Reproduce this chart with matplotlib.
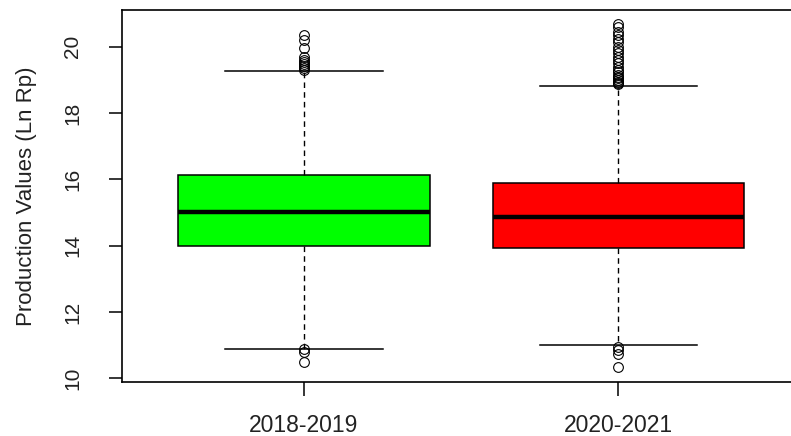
import matplotlib.pyplot as plt

plt.rcParams['font.family'] = ['Liberation Sans', 'DejaVu Sans']

# valores (Ln Rp)
labels = ["2018-2019", "2020-2021"]
colors = ["#00ff00", "#ff0000"]
q1 = [14.00, 13.92]
med = [15.01, 14.86]
q3 = [16.13, 15.90]
whislo = [10.90, 11.00]
whishi = [19.28, 18.81]
fliers_1 = [20.37, 20.20, 19.97, 19.69, 19.60, 19.54, 19.48, 19.42, 19.36, 19.31,
            10.88, 10.80, 10.50]
fliers_2 = [20.70, 20.60, 20.45, 20.35, 20.25, 20.15, 20.00, 19.90, 19.80, 19.70,
            19.60, 19.50, 19.40, 19.30, 19.25, 19.15, 19.10, 19.05, 19.00, 18.95,
            18.90, 18.87, 10.95, 10.85, 10.73, 10.33]
fliers = [fliers_1, fliers_2]

stats = []
for i in range(len(labels)):
    stats.append(dict(label=labels[i], q1=q1[i], med=med[i], q3=q3[i],
                      whislo=whislo[i], whishi=whishi[i], fliers=fliers[i]))

fig = plt.figure(figsize=(7.91, 4.36), dpi=100)
ax = fig.add_axes([0.1539, 0.1239, 1 - 0.1539, 0.853])

bp = ax.bxp(stats, positions=[1, 2], widths=0.8, patch_artist=True,
            boxprops=dict(edgecolor="black", linewidth=1.1),
            medianprops=dict(color="black", linewidth=3.2),
            whiskerprops=dict(color="black", linewidth=1.0, linestyle=(0, (4, 3))),
            capprops=dict(color="black", linewidth=1.1),
            capwidths=0.5,
            flierprops=dict(marker="o", markerfacecolor="none", markeredgecolor="black",
                            markersize=7, markeredgewidth=0.8))
for patch, c in zip(bp["boxes"], colors):
    patch.set_facecolor(c)

ax.set_xlim(0.42, 2.55)
ax.set_ylim(9.89, 21.11)
ax.set_yticks([10, 12, 14, 16, 18, 20])
ax.set_xticks([1, 2])
ax.set_xticklabels(labels)
ax.spines["right"].set_visible(False)
for s in ["top", "bottom", "left"]:
    ax.spines[s].set_linewidth(1.2)

ax.tick_params(axis="y", length=9.4, width=1.1, labelsize=15, pad=19,
               labelcolor="#222222")
ax.tick_params(axis="x", length=10, width=1.1, labelsize=16.5, pad=13,
               labelcolor="#222222")
for lab in ax.get_yticklabels():
    lab.set_rotation(90)
    lab.set_va("center")
ax.set_ylabel("Production Values (Ln Rp)", fontsize=16, color="#222222")
ax.yaxis.set_label_coords(-0.127, 0.5)

fig.savefig("out.png", dpi=100)
